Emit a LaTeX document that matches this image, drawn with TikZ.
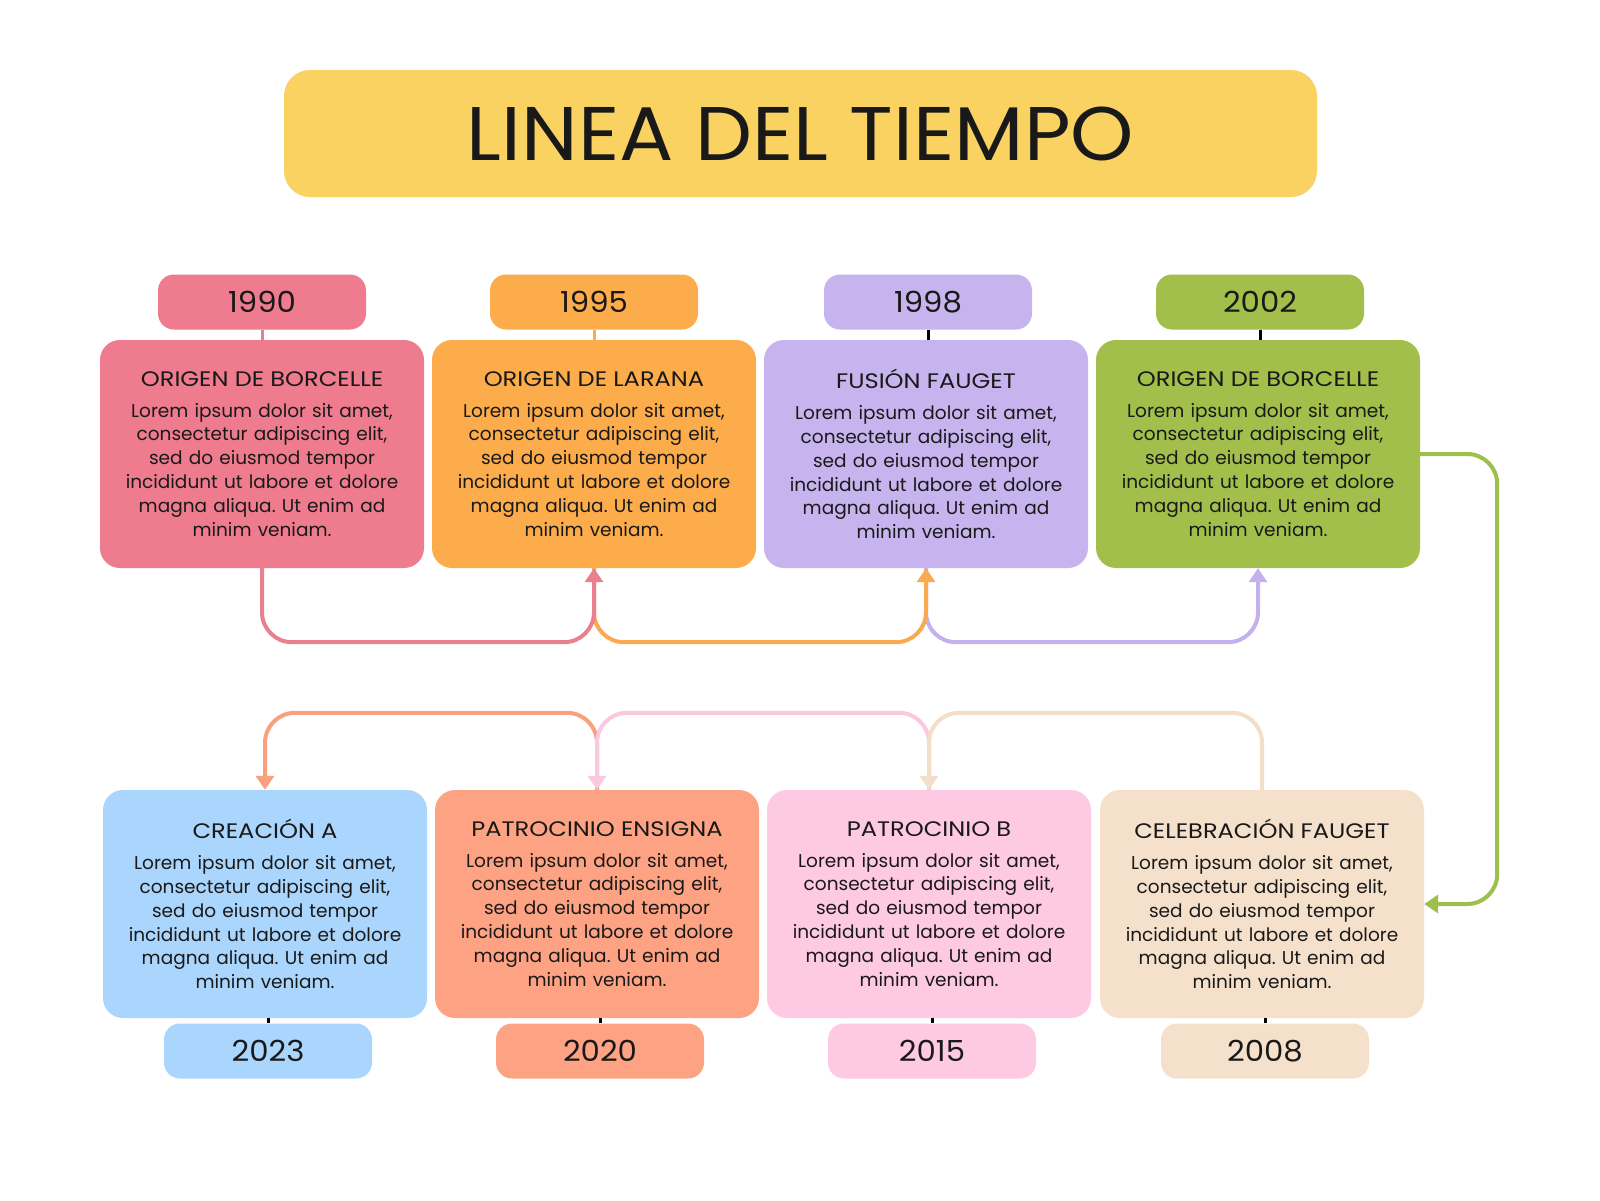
\documentclass[tikz,border=0pt]{standalone}
\usepackage{fontspec}
\setmainfont{Poppins}
\newfontfamily\titlefont[FakeStretch=1.06]{Poppins}
\newfontfamily\headfont[FakeStretch=1.15]{Poppins}
\newfontfamily\yearfont[FakeStretch=1.06]{Poppins}
\usetikzlibrary{arrows.meta}
\definecolor{cTitle}{HTML}{F9D262}
\definecolor{cPink}{HTML}{EE7B8E}
\definecolor{cOrange}{HTML}{FDAC4B}
\definecolor{cPurple}{HTML}{C7B3EE}
\definecolor{cGreen}{HTML}{A2BF4B}
\definecolor{cBlue}{HTML}{AAD5FC}
\definecolor{cSalmon}{HTML}{FDA383}
\definecolor{cRose}{HTML}{FEC9E2}
\definecolor{cBeige}{HTML}{F5E1CB}
\definecolor{lPink}{HTML}{E9808F}
\definecolor{lOrange}{HTML}{F9A94F}
\definecolor{lPurple}{HTML}{C3B0EC}
\definecolor{lGreen}{HTML}{9DBF4B}
\definecolor{lSalmon}{HTML}{F9A07F}
\definecolor{lRose}{HTML}{FAC8DF}
\definecolor{lBeige}{HTML}{F3DFC9}
\newcommand{\loremtext}{Lorem ipsum dolor sit amet,\\ consectetur adipiscing elit,\\ sed do eiusmod tempor\\ incididunt ut labore et dolore\\ magna aliqua. Ut enim ad\\ minim veniam.}
\newcommand{\cardhead}[1]{{\headfont\fontsize{21}{24}\selectfont #1}\\[7pt]}
\frenchspacing
\begin{document}
\begin{tikzpicture}[x=1pt,y=-1pt,
  card/.style={rounded corners=20pt, minimum width=324pt, minimum height=228pt, inner sep=0pt, align=center, text width=318pt, text=black!90, font=\fontsize{18.5}{23.9}\selectfont},
  yearbox/.style={rounded corners=16pt, minimum width=208pt, minimum height=55pt, inner sep=0pt, text=black!90, font=\yearfont\fontsize{29}{34}\selectfont},
  link/.style={line width=4pt, rounded corners=30pt, -{Triangle[width=18pt,length=14pt]}},
  tickline/.style={line width=3pt}
]
\useasboundingbox[fill=white] (0,0) rectangle (1600,1200);

\node[fill=cTitle, rounded corners=26pt, minimum width=1033pt, minimum height=127pt, inner sep=0pt, text=black!90, font=\titlefont\fontsize{76}{82}\selectfont] (title) at (800.5,133.5) {LINEA DEL TIEMPO};

% top row
\node[card, fill=cPink]   (b1) at (262,454) {\cardhead{ORIGEN DE BORCELLE}\loremtext};
\node[card, fill=cOrange] (b2) at (594,454) {\cardhead{ORIGEN DE LARANA}\loremtext};
\node[card, fill=cPurple] (b3) at (926,454) {\cardhead{FUSIÓN FAUGET}\loremtext};
\node[card, fill=cGreen]  (b4) at (1258,454) {\cardhead{ORIGEN DE BORCELLE}\loremtext};

\node[yearbox, fill=cPink]   (y1) at (262,302) {1990};
\node[yearbox, fill=cOrange] (y2) at (594,302) {1995};
\node[yearbox, fill=cPurple] (y3) at (928,302) {1998};
\node[yearbox, fill=cGreen]  (y4) at (1260,302) {2002};

\draw[tickline, cPink]   (y1.south) -- (b1.north);
\draw[tickline, cOrange] (y2.south) -- (b2.north);
\draw[tickline, black]   (y3.south) -- (y3.south |- b3.north);
\draw[tickline, black]   (y4.south) -- (y4.south |- b4.north);

% bottom row
\node[card, fill=cBlue]   (c1) at (265,904) {\cardhead{CREACIÓN A}\loremtext};
\node[card, fill=cSalmon] (c2) at (597,904) {\cardhead{PATROCINIO ENSIGNA}\loremtext};
\node[card, fill=cRose]   (c3) at (929,904) {\cardhead{PATROCINIO B}\loremtext};
\node[card, fill=cBeige]  (c4) at (1262,904) {\cardhead{CELEBRACIÓN FAUGET}\loremtext};

\node[yearbox, fill=cBlue]   (y5) at (268,1051) {2023};
\node[yearbox, fill=cSalmon] (y6) at (600,1051) {2020};
\node[yearbox, fill=cRose]   (y7) at (932,1051) {2015};
\node[yearbox, fill=cBeige]  (y8) at (1265,1051) {2008};

\draw[tickline] (y5.north) -- (y5.north |- c1.south);
\draw[tickline] (y6.north) -- (y6.north |- c2.south);
\draw[tickline] (y7.north) -- (y7.north |- c3.south);
\draw[tickline] (y8.north) -- (y8.north |- c4.south);

% top connectors
\draw[link, lPurple] (b3.south) -- ++(0,74) -| (b4.south);
\draw[link, lOrange] (b2.south) -- ++(0,74) -| (b3.south);
\draw[link, lPink]   (b1.south) -- ++(0,74) -| (b2.south);

% side connector
\draw[link, lGreen] (b4.east) -- ++(77,0) |- (c4.east);

% bottom connectors
\draw[link, lSalmon] (c2.north) -- ++(0,-77) -| (c1.north);
\draw[link, lRose]   (c3.north) -- ++(0,-77) -| (c2.north);
\draw[link, lBeige]  (c4.north) -- ++(0,-77) -| (c3.north);
\end{tikzpicture}
\end{document}
